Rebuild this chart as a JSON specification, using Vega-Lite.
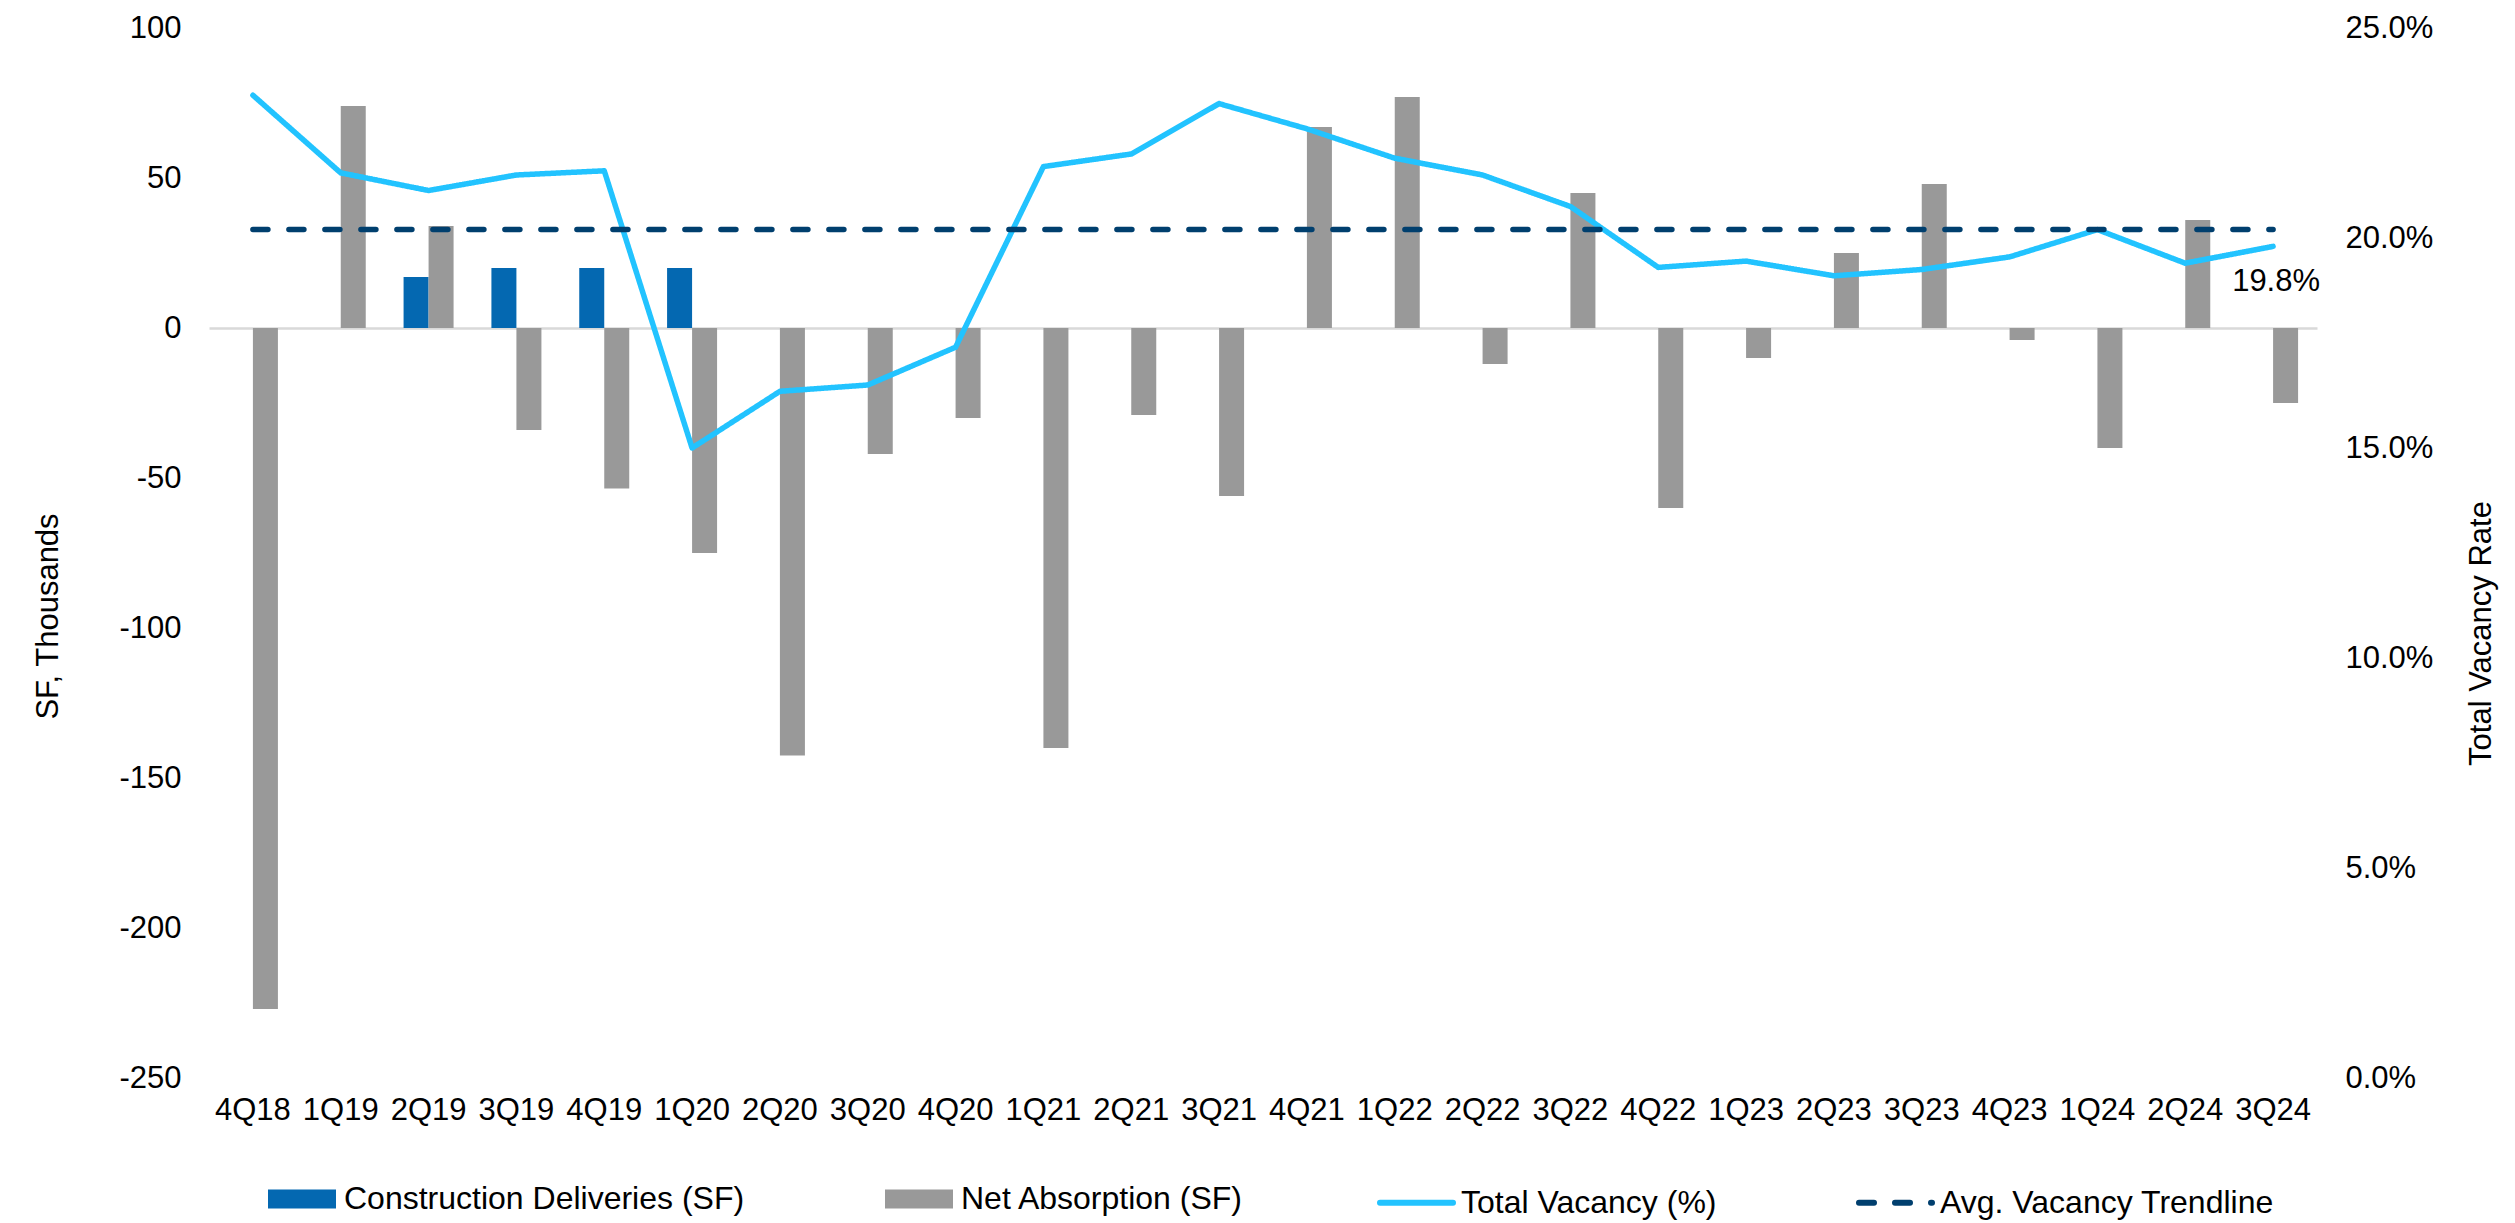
{
  "$schema": "https://vega.github.io/schema/vega-lite/v6.json",
  "autosize": {"type": "none"},
  "width": 2108,
  "height": 1050,
  "padding": {"left": 209, "top": 28, "right": 198, "bottom": 145},
  "background": "#ffffff",
  "config": {
    "font": "Liberation Sans",
    "view": {"stroke": null},
    "axis": {
      "labelFont": "Liberation Sans",
      "labelFontSize": 31,
      "labelColor": "#000000",
      "titleFont": "Liberation Sans",
      "titleFontSize": 31,
      "titleFontWeight": "normal",
      "titleColor": "#000000",
      "domain": false,
      "ticks": false,
      "tickSize": 0
    },
    "legend": {
      "labelFont": "Liberation Sans",
      "labelFontSize": 32,
      "labelColor": "#000000",
      "padding": 0
    }
  },
  "datasets": {
    "bars": [
      {"q": "4Q18", "series": "Net Absorption (SF)", "sf": -227},
      {"q": "1Q19", "series": "Net Absorption (SF)", "sf": 74},
      {"q": "2Q19", "series": "Construction Deliveries (SF)", "sf": 17},
      {"q": "2Q19", "series": "Net Absorption (SF)", "sf": 34},
      {"q": "3Q19", "series": "Construction Deliveries (SF)", "sf": 20},
      {"q": "3Q19", "series": "Net Absorption (SF)", "sf": -34},
      {"q": "4Q19", "series": "Construction Deliveries (SF)", "sf": 20},
      {"q": "4Q19", "series": "Net Absorption (SF)", "sf": -53.5},
      {"q": "1Q20", "series": "Construction Deliveries (SF)", "sf": 20},
      {"q": "1Q20", "series": "Net Absorption (SF)", "sf": -75},
      {"q": "2Q20", "series": "Net Absorption (SF)", "sf": -142.5},
      {"q": "3Q20", "series": "Net Absorption (SF)", "sf": -42},
      {"q": "4Q20", "series": "Net Absorption (SF)", "sf": -30},
      {"q": "1Q21", "series": "Net Absorption (SF)", "sf": -140},
      {"q": "2Q21", "series": "Net Absorption (SF)", "sf": -29},
      {"q": "3Q21", "series": "Net Absorption (SF)", "sf": -56},
      {"q": "4Q21", "series": "Net Absorption (SF)", "sf": 67},
      {"q": "1Q22", "series": "Net Absorption (SF)", "sf": 77},
      {"q": "2Q22", "series": "Net Absorption (SF)", "sf": -12},
      {"q": "3Q22", "series": "Net Absorption (SF)", "sf": 45},
      {"q": "4Q22", "series": "Net Absorption (SF)", "sf": -60},
      {"q": "1Q23", "series": "Net Absorption (SF)", "sf": -10},
      {"q": "2Q23", "series": "Net Absorption (SF)", "sf": 25},
      {"q": "3Q23", "series": "Net Absorption (SF)", "sf": 48},
      {"q": "4Q23", "series": "Net Absorption (SF)", "sf": -4},
      {"q": "1Q24", "series": "Net Absorption (SF)", "sf": -40},
      {"q": "2Q24", "series": "Net Absorption (SF)", "sf": 36},
      {"q": "3Q24", "series": "Net Absorption (SF)", "sf": -25}
    ],
    "lines": [
      {"q": "4Q18", "series": "Total Vacancy (%)", "rate": 0.234},
      {"q": "1Q19", "series": "Total Vacancy (%)", "rate": 0.2155},
      {"q": "2Q19", "series": "Total Vacancy (%)", "rate": 0.2113},
      {"q": "3Q19", "series": "Total Vacancy (%)", "rate": 0.215},
      {"q": "4Q19", "series": "Total Vacancy (%)", "rate": 0.216},
      {"q": "1Q20", "series": "Total Vacancy (%)", "rate": 0.150},
      {"q": "2Q20", "series": "Total Vacancy (%)", "rate": 0.1635},
      {"q": "3Q20", "series": "Total Vacancy (%)", "rate": 0.165},
      {"q": "4Q20", "series": "Total Vacancy (%)", "rate": 0.174},
      {"q": "1Q21", "series": "Total Vacancy (%)", "rate": 0.217},
      {"q": "2Q21", "series": "Total Vacancy (%)", "rate": 0.220},
      {"q": "3Q21", "series": "Total Vacancy (%)", "rate": 0.232},
      {"q": "4Q21", "series": "Total Vacancy (%)", "rate": 0.226},
      {"q": "1Q22", "series": "Total Vacancy (%)", "rate": 0.219},
      {"q": "2Q22", "series": "Total Vacancy (%)", "rate": 0.215},
      {"q": "3Q22", "series": "Total Vacancy (%)", "rate": 0.2075},
      {"q": "4Q22", "series": "Total Vacancy (%)", "rate": 0.193},
      {"q": "1Q23", "series": "Total Vacancy (%)", "rate": 0.1945},
      {"q": "2Q23", "series": "Total Vacancy (%)", "rate": 0.191},
      {"q": "3Q23", "series": "Total Vacancy (%)", "rate": 0.1925},
      {"q": "4Q23", "series": "Total Vacancy (%)", "rate": 0.1955},
      {"q": "1Q24", "series": "Total Vacancy (%)", "rate": 0.202},
      {"q": "2Q24", "series": "Total Vacancy (%)", "rate": 0.194},
      {"q": "3Q24", "series": "Total Vacancy (%)", "rate": 0.198},
      {"q": "4Q18", "series": "Avg. Vacancy Trendline", "rate": 0.202},
      {"q": "1Q19", "series": "Avg. Vacancy Trendline", "rate": 0.202},
      {"q": "2Q19", "series": "Avg. Vacancy Trendline", "rate": 0.202},
      {"q": "3Q19", "series": "Avg. Vacancy Trendline", "rate": 0.202},
      {"q": "4Q19", "series": "Avg. Vacancy Trendline", "rate": 0.202},
      {"q": "1Q20", "series": "Avg. Vacancy Trendline", "rate": 0.202},
      {"q": "2Q20", "series": "Avg. Vacancy Trendline", "rate": 0.202},
      {"q": "3Q20", "series": "Avg. Vacancy Trendline", "rate": 0.202},
      {"q": "4Q20", "series": "Avg. Vacancy Trendline", "rate": 0.202},
      {"q": "1Q21", "series": "Avg. Vacancy Trendline", "rate": 0.202},
      {"q": "2Q21", "series": "Avg. Vacancy Trendline", "rate": 0.202},
      {"q": "3Q21", "series": "Avg. Vacancy Trendline", "rate": 0.202},
      {"q": "4Q21", "series": "Avg. Vacancy Trendline", "rate": 0.202},
      {"q": "1Q22", "series": "Avg. Vacancy Trendline", "rate": 0.202},
      {"q": "2Q22", "series": "Avg. Vacancy Trendline", "rate": 0.202},
      {"q": "3Q22", "series": "Avg. Vacancy Trendline", "rate": 0.202},
      {"q": "4Q22", "series": "Avg. Vacancy Trendline", "rate": 0.202},
      {"q": "1Q23", "series": "Avg. Vacancy Trendline", "rate": 0.202},
      {"q": "2Q23", "series": "Avg. Vacancy Trendline", "rate": 0.202},
      {"q": "3Q23", "series": "Avg. Vacancy Trendline", "rate": 0.202},
      {"q": "4Q23", "series": "Avg. Vacancy Trendline", "rate": 0.202},
      {"q": "1Q24", "series": "Avg. Vacancy Trendline", "rate": 0.202},
      {"q": "2Q24", "series": "Avg. Vacancy Trendline", "rate": 0.202},
      {"q": "3Q24", "series": "Avg. Vacancy Trendline", "rate": 0.202}
    ]
  },
  "layer": [
    {
      "data": {"name": "bars"},
      "mark": {"type": "bar"},
      "encoding": {
        "x": {
          "field": "q",
          "type": "nominal",
          "title": null,
          "scale": {
            "domain": ["4Q18", "1Q19", "2Q19", "3Q19", "4Q19", "1Q20", "2Q20", "3Q20", "4Q20", "1Q21", "2Q21", "3Q21", "4Q21", "1Q22", "2Q22", "3Q22", "4Q22", "1Q23", "2Q23", "3Q23", "4Q23", "1Q24", "2Q24", "3Q24"],
            "paddingInner": 0.4307,
            "paddingOuter": 0.2153
          },
          "axis": {"labelAngle": 0, "labelPadding": 32, "labelBaseline": "middle", "grid": false}
        },
        "xOffset": {
          "field": "series",
          "type": "nominal",
          "scale": {"domain": ["Construction Deliveries (SF)", "Net Absorption (SF)"], "paddingInner": 0, "paddingOuter": 0}
        },
        "y": {
          "field": "sf",
          "type": "quantitative",
          "title": "SF, Thousands",
          "scale": {"domain": [-250, 100], "nice": false, "zero": true},
          "axis": {
            "orient": "left",
            "values": [-250, -200, -150, -100, -50, 0, 50, 100],
            "labelExpr": "datum.value < 0 ? '-' + abs(datum.value) : '' + datum.value",
            "labelPadding": 28,
            "grid": true,
            "gridColor": {"condition": {"test": "datum.value === 0", "value": "#D9D9D9"}, "value": null},
            "gridWidth": 2.5,
            "titleAngle": -90,
            "titleBaseline": "middle",
            "titleX": -161,
            "titleY": 588
          }
        },
        "color": {
          "field": "series",
          "type": "nominal",
          "scale": {"domain": ["Construction Deliveries (SF)", "Net Absorption (SF)"], "range": ["#0468B1", "#999999"]},
          "legend": {
            "title": null,
            "orient": "none",
            "legendX": 59,
            "legendY": 1137,
            "direction": "horizontal",
            "symbolType": "M-1,-0.28H1V0.28H-1Z",
            "symbolSize": 4624,
            "symbolStrokeWidth": 0,
            "symbolOpacity": 1,
            "labelOffset": 8,
            "labelLimit": 800,
            "columnPadding": 140
          }
        }
      }
    },
    {
      "data": {"name": "lines"},
      "layer": [
        {
          "mark": {"type": "line", "strokeCap": "round", "strokeJoin": "round", "strokeWidth": 5.5},
          "encoding": {
            "x": {"field": "q", "type": "nominal", "title": null},
            "y": {
              "field": "rate",
              "type": "quantitative",
              "title": "Total Vacancy Rate",
              "scale": {"domain": [0, 0.25], "nice": false},
              "axis": {
                "orient": "right",
                "format": ".1%",
                "values": [0, 0.05, 0.1, 0.15, 0.2, 0.25],
                "labelPadding": 28,
                "grid": false,
                "titleAngle": -90,
                "titleBaseline": "middle",
                "titleX": 164,
                "titleY": 605
              }
            },
            "detail": {"field": "series"},
            "stroke": {
              "field": "series",
              "type": "nominal",
              "scale": {"domain": ["Total Vacancy (%)", "Avg. Vacancy Trendline"], "range": ["#22C3FF", "#003F6E"]},
              "legend": {
                "title": null,
                "orient": "none",
                "legendX": 1168,
                "legendY": 1135,
                "direction": "horizontal",
                "symbolType": "stroke",
                "symbolSize": 5329,
                "symbolStrokeWidth": 6,
                "labelOffset": 5,
                "labelLimit": 800,
                "columnPadding": 130,
                "encode": {"symbols": {"update": {"strokeCap": {"value": "round"}}}}
              }
            },
            "strokeDash": {
              "field": "series",
              "type": "nominal",
              "scale": {"domain": ["Total Vacancy (%)", "Avg. Vacancy Trendline"], "range": [[1, 0], [15, 21]]},
              "legend": {
                "title": null,
                "orient": "none",
                "legendX": 1168,
                "legendY": 1135,
                "direction": "horizontal",
                "symbolType": "stroke",
                "symbolSize": 5329,
                "symbolStrokeWidth": 6,
                "labelOffset": 5,
                "labelLimit": 800,
                "columnPadding": 130,
                "encode": {"symbols": {"update": {"strokeCap": {"value": "round"}}}}
              }
            }
          }
        },
        {
          "transform": [{"filter": "datum.q === '3Q24' && datum.series === 'Total Vacancy (%)'"}],
          "mark": {"type": "text", "font": "Liberation Sans", "fontSize": 31, "color": "#000000", "align": "center", "baseline": "middle", "dy": 36, "dx": 3},
          "encoding": {
            "x": {"field": "q", "type": "nominal", "title": null},
            "y": {"field": "rate", "type": "quantitative"},
            "text": {"field": "rate", "type": "quantitative", "format": ".1%"}
          }
        }
      ]
    }
  ],
  "resolve": {"scale": {"y": "independent"}}
}
